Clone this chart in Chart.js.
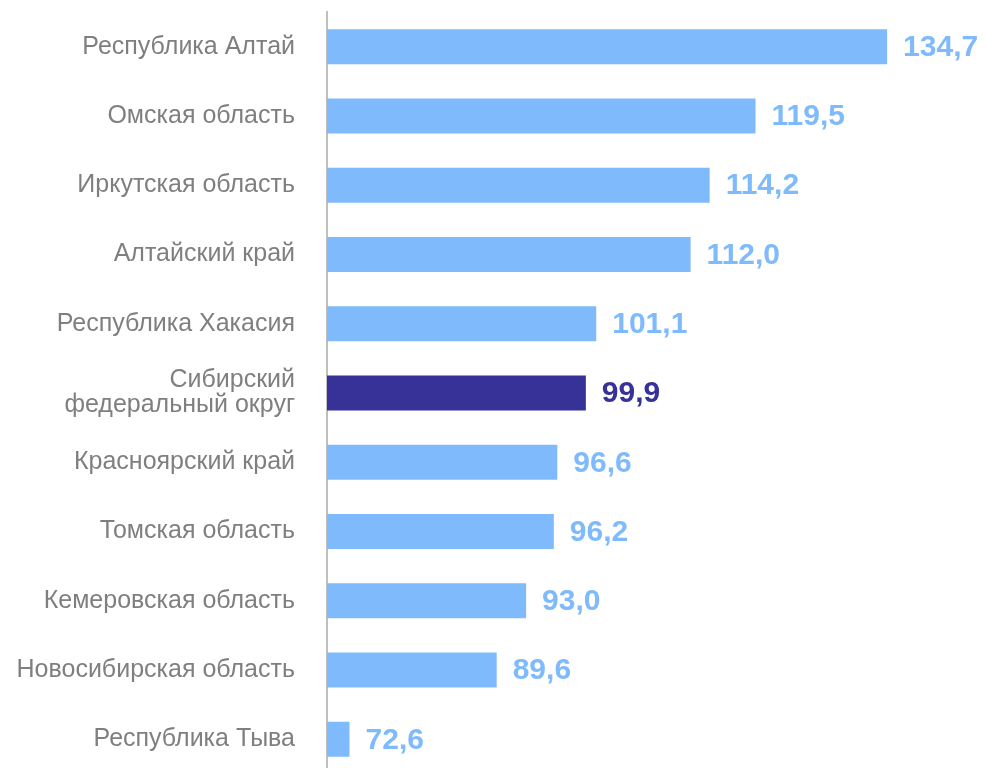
<!DOCTYPE html>
<html>
<head>
<meta charset="utf-8">
<script src="https://cdn.jsdelivr.net/npm/chart.js@4/dist/chart.umd.min.js"></script>
<style>
  html, body { margin: 0; padding: 0; background: #fff; overflow: hidden; }
</style>
</head>
<body>
<canvas id="regionsChart" width="987" height="776"></canvas>
<script>
// Regions (top to bottom)
const regions = [
  'Республика Алтай',
  'Омская область',
  'Иркутская область',
  'Алтайский край',
  'Республика Хакасия',
  ['Сибирский', 'федеральный округ'],
  'Красноярский край',
  'Томская область',
  'Кемеровская область',
  'Новосибирская область',
  'Республика Тыва'
];

// Index values
const values = [134.7, 119.5, 114.2, 112.0, 101.1, 99.9, 96.6, 96.2, 93.0, 89.6, 72.6];

// Which bar is the district total
const highlightIndex = 5;

const colors = {
  bar: '#7fbafc',
  highlight: '#363297',
  label: '#7f7f7f',
  axis: '#bfbfbf'
};

const barColors = values.map((v, i) => i === highlightIndex ? colors.highlight : colors.bar);

// Draw value labels right of each bar
const valueLabels = {
  id: 'valueLabels',
  afterDatasetsDraw(chart) {
    const ctx = chart.ctx;
    const meta = chart.getDatasetMeta(0);
    ctx.save();
    ctx.font = 'bold 30px "Liberation Sans", Arial, sans-serif';
    ctx.textAlign = 'left';
    ctx.textBaseline = 'middle';
    meta.data.forEach((bar, i) => {
      ctx.fillStyle = barColors[i];
      const text = values[i].toFixed(1).replace('.', ',');
      ctx.fillText(text, bar.x + 16, bar.y + 1);
    });
    ctx.restore();
  }
};

const ctx = document.getElementById('regionsChart').getContext('2d');

new Chart(ctx, {
  type: 'bar',
  data: {
    labels: regions,
    datasets: [{
      data: values,
      backgroundColor: barColors,
      borderWidth: 0,
      barPercentage: 0.505,
      categoryPercentage: 1
    }]
  },
  options: {
    indexAxis: 'y',
    responsive: false,
    animation: false,
    layout: {
      padding: { top: 12, right: 54, bottom: 2, left: 0 }
    },
    plugins: {
      legend: { display: false },
      tooltip: { enabled: false }
    },
    scales: {
      x: {
        display: false,
        min: 70,
        max: 140
      },
      y: {
        grid: { display: false, drawTicks: false },
        border: { display: true, color: colors.axis, width: 2 },
        ticks: {
          padding: 32,
          color: colors.label,
          font: { family: '"Liberation Sans", Arial, sans-serif', size: 25, lineHeight: 1.0 }
        },
        afterFit: (scale) => {
          scale.width = 327;
          scale.paddingTop = 0;
          scale.paddingBottom = 0;
        }
      }
    }
  },
  plugins: [valueLabels]
});
</script>
</body>
</html>
